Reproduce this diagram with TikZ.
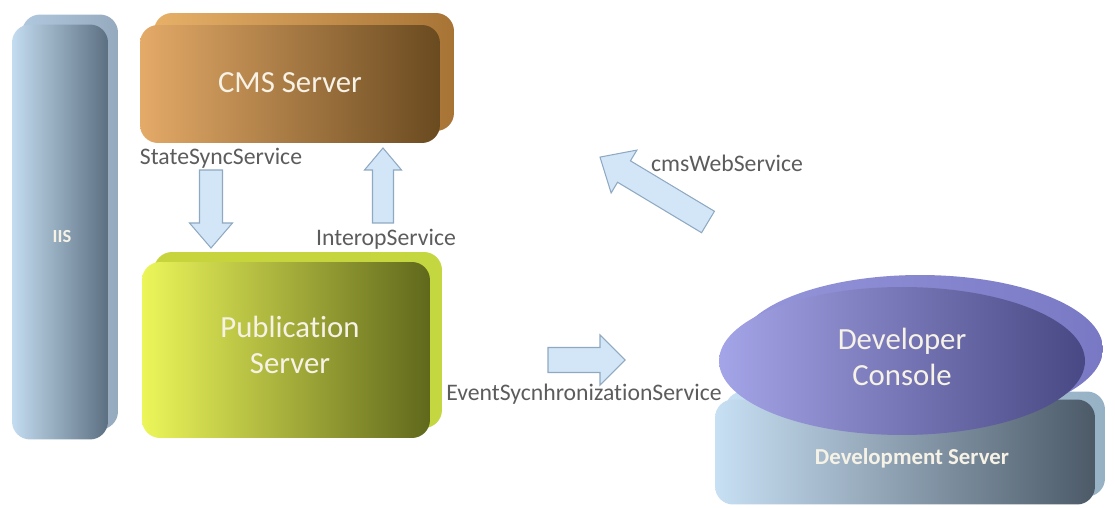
\documentclass[tikz,border=0pt]{standalone}
\usepackage{fontspec}
\setmainfont[Ligatures=NoCommon]{Carlito}
\usetikzlibrary{shapes.geometric}

\definecolor{lblgray}{HTML}{5C5C5C}
\definecolor{arrfill}{HTML}{D2E6F8}
\definecolor{arredge}{HTML}{8FA9C2}
\definecolor{facetext}{HTML}{F6F2E6}

\tikzset{
	face/.style={shade, draw=none, inner sep=0pt, rounded corners=0.36cm},
	svc/.style={text=lblgray, font=\fontsize{13.5}{15}\selectfont},
	big/.style={text=facetext, font=\fontsize{17.5}{20}\selectfont, align=center},
	% block arrow: {length}{shaft half}{head half}{head length}, tail at the pic origin
	pics/flow/.style n args={4}{code={
		\draw[draw=arredge, fill=arrfill, line width=0.6pt, line join=miter]
			(0,-#2) -- ({#1-#4},-#2) -- ({#1-#4},-#3) -- (#1,0) -- ({#1-#4},#3) -- ({#1-#4},#2) -- (0,#2) -- cycle;
		\coordinate (-tip) at (#1,0);
	}}
}

\begin{document}
\begin{tikzpicture}[x=0.02cm, y=0.02cm]

		\useasboundingbox (0,0) rectangle (1115,507);

		% IIS
		\node[face, left color={rgb,255:red,176;green,200;blue,222}, right color={rgb,255:red,150;green,170;blue,190}, minimum width=1.92cm, minimum height=8.3cm] (iisback) at (70,285) {};
		\node[face, left color={rgb,255:red,196;green,220;blue,240}, right color={rgb,255:red,92;green,112;blue,130}, minimum width=1.92cm, minimum height=8.3cm] (iis) at (60,275) {};
		\node[text=facetext, font=\bfseries\fontsize{10.5}{12}\selectfont] (iislbl) at (62,270) {IIS};

		% CMS Server
		\node[face, left color={rgb,255:red,230;green,176;blue,104}, right color={rgb,255:red,168;green,116;blue,54}, minimum width=6cm, minimum height=2.36cm] (cmsback) at (304,435) {};
		\node[face, left color={rgb,255:red,228;green,170;blue,104}, right color={rgb,255:red,106;green,74;blue,32}, minimum width=6cm, minimum height=2.36cm] (cms) at (290,423) {};
		\node[big] (cmslbl) at (290,424) {CMS Server};

		% Publication Server
		\node[face, left color={rgb,255:red,200;green,212;blue,60}, right color={rgb,255:red,196;green,214;blue,64}, minimum width=5.76cm, minimum height=3.52cm] (pubback) at (298,167) {};
		\node[face, left color={rgb,255:red,236;green,246;blue,90}, right color={rgb,255:red,96;green,104;blue,28}, minimum width=5.76cm, minimum height=3.52cm] (pub) at (286,157) {};
		\node[big] (publbl) at (290,162) {Publication\\Server};

		% Development Server
		\node[face, left color={rgb,255:red,200;green,224;blue,244}, right color={rgb,255:red,150;green,176;blue,196}, minimum width=7.6cm, minimum height=2.1cm] (devback) at (915,63) {};
		\node[face, left color={rgb,255:red,200;green,224;blue,244}, right color={rgb,255:red,76;green,90;blue,104}, minimum width=7.6cm, minimum height=2.1cm] (dev) at (905,55) {};
		\node[text=facetext, font=\bfseries\fontsize{13}{15}\selectfont] (devlbl) at (912,49) {Development Server};

		% Developer Console
		\node[ellipse, shade, left color={rgb,255:red,150;green,150;blue,220}, right color={rgb,255:red,120;green,120;blue,196}, inner sep=0pt, minimum width=7.32cm, minimum height=2.96cm] (conback) at (920,158) {};
		\node[ellipse, shade, left color={rgb,255:red,164;green,164;blue,232}, right color={rgb,255:red,72;green,72;blue,132}, inner sep=0pt, minimum width=7.32cm, minimum height=2.96cm] (con) at (902,146) {};
		\node[big] (conlbl) at (902,150) {Developer\\Console};

		% service arrows
		\pic[rotate=-90] (statesync) at (211,337) {flow={78}{11.5}{21.5}{25}};
		\node[svc] (statesynclbl) at (221,349) {StateSyncService};

		\pic[rotate=90] (interop) at (383,284) {flow={75}{10.5}{18.5}{22}};
		\node[svc] (interoplbl) at (386,268) {InteropService};

		\pic (eventsync) at (548,147) {flow={77}{12.5}{25}{25}};
		\node[svc] (eventsynclbl) at (584,113) {EventSycnhronizationService};

		\pic[rotate=149] (cmsweb) at (708,285) {flow={126}{12.5}{25}{28}};
		\node[svc] (cmsweblbl) at (727,344) {cmsWebService};

\end{tikzpicture}
\end{document}
